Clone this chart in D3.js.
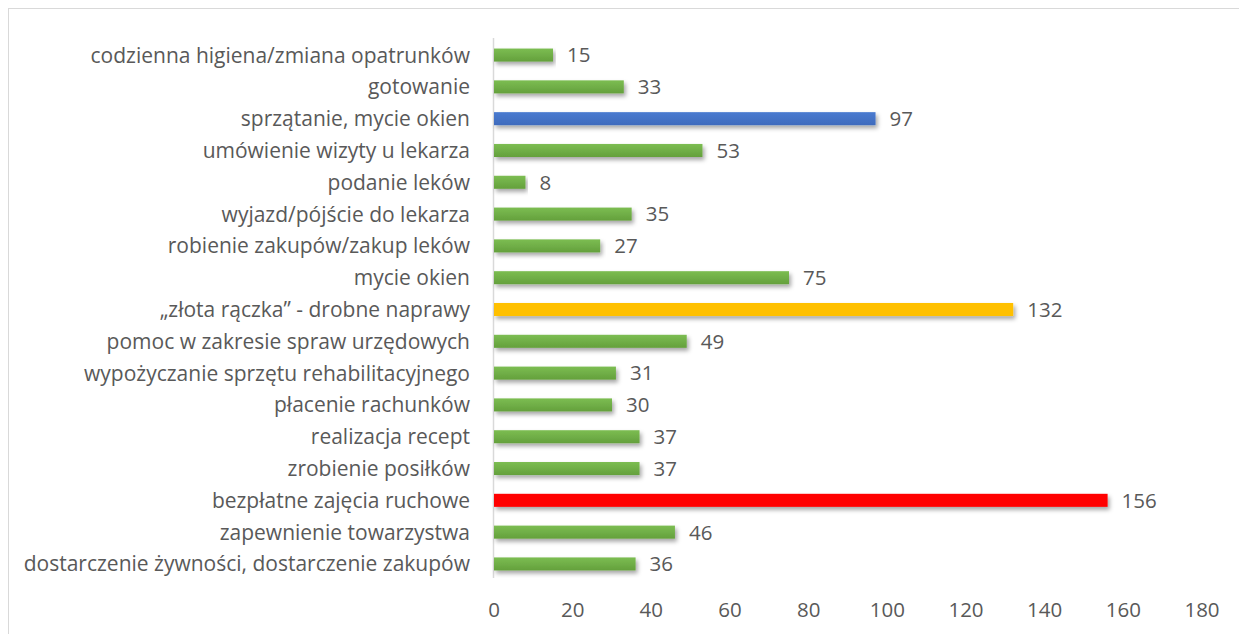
<!DOCTYPE html>
<html>
<head>
<meta charset="utf-8">
<script src="https://cdn.jsdelivr.net/npm/d3@7"></script>
<style>
  body { margin: 0; background: #fff; }
  text { font-family: "Open Sans", "Noto Sans", sans-serif; fill: #595959; }
</style>
</head>
<body>
<svg id="chart" width="1239" height="634"></svg>
<script>
var categories = [
  "codzienna higiena/zmiana opatrunków",
  "gotowanie",
  "sprzątanie, mycie okien",
  "umówienie wizyty u lekarza",
  "podanie leków",
  "wyjazd/pójście do lekarza",
  "robienie zakupów/zakup leków",
  "mycie okien",
  "„złota rączka” - drobne naprawy",
  "pomoc w zakresie spraw urzędowych",
  "wypożyczanie sprzętu rehabilitacyjnego",
  "płacenie rachunków",
  "realizacja recept",
  "zrobienie posiłków",
  "bezpłatne zajęcia ruchowe",
  "zapewnienie towarzystwa",
  "dostarczenie żywności, dostarczenie zakupów"
];
var values = [15, 33, 97, 53, 8, 35, 27, 75, 132, 49, 31, 30, 37, 37, 156, 46, 36];
var highlight = {
  "sprzątanie, mycie okien": "blue",
  "„złota rączka” - drobne naprawy": "orange",
  "bezpłatne zajęcia ruchowe": "red"
};
var xTicks = [0, 20, 40, 60, 80, 100, 120, 140, 160, 180];

var svg = d3.select("#chart");

// outer frame (right and bottom run off the picture)
svg.append("rect")
    .attr("x", 8.5).attr("y", 8.5)
    .attr("width", 1260).attr("height", 660)
    .attr("fill", "none")
    .attr("stroke", "#d9d9d9");

var defs = svg.append("defs");
var fills = {
  green: ["#7cbd52", "#64a03c"],
  blue: ["#4a7bd0", "#3f6bbd"],
  orange: ["#ffc000", "#ffc000"],
  red: ["#ff0000", "#ff0000"]
};
Object.keys(fills).forEach(function(k) {
  var g = defs.append("linearGradient")
      .attr("id", "g-" + k)
      .attr("x1", 0).attr("y1", 0).attr("x2", 0).attr("y2", 1);
  g.append("stop").attr("offset", "0%").attr("stop-color", fills[k][0]);
  g.append("stop").attr("offset", "100%").attr("stop-color", fills[k][1]);
});
defs.append("filter")
    .attr("id", "shadow")
    .attr("x", "-5%").attr("y", "-50%").attr("width", "110%").attr("height", "250%")
  .append("feDropShadow")
    .attr("dx", 2).attr("dy", 3)
    .attr("stdDeviation", 2)
    .attr("flood-color", "#000")
    .attr("flood-opacity", 0.35);

var x = d3.scaleLinear()
    .domain([0, 180])
    .range([494, 1202]);

var y = d3.scaleBand()
    .domain(categories)
    .range([39, 580])
    .paddingInner(0.59)
    .paddingOuter(0.3);

// axis line
svg.append("line")
    .attr("x1", x(0) - 0.5).attr("x2", x(0) - 0.5)
    .attr("y1", 38).attr("y2", 578)
    .attr("stroke", "#d9d9d9")
    .attr("stroke-width", 1.5);

// bars
svg.append("g")
  .selectAll("rect")
  .data(categories)
  .enter().append("rect")
    .attr("x", x(0))
    .attr("y", function(d) { return y(d); })
    .attr("width", function(d, i) { return x(values[i]) - x(0); })
    .attr("height", y.bandwidth())
    .attr("fill", function(d) { return "url(#g-" + (highlight[d] || "green") + ")"; })
    .attr("filter", "url(#shadow)");

// data labels
svg.append("g")
  .selectAll("text")
  .data(categories)
  .enter().append("text")
    .attr("x", function(d, i) { return x(values[i]) + 14; })
    .attr("y", function(d) { return y(d) + y.bandwidth() / 2; })
    .attr("dy", "0.36em")
    .style("font-size", "20.5px")
    .text(function(d, i) { return values[i]; });

// category labels
svg.append("g")
  .selectAll("text")
  .data(categories)
  .enter().append("text")
    .attr("x", 470)
    .attr("y", function(d) { return y(d) + y.bandwidth() / 2; })
    .attr("dy", "0.36em")
    .attr("text-anchor", "end")
    .style("font-size", "21px")
    .text(function(d) { return d; });

// x tick labels
svg.append("g")
  .selectAll("text")
  .data(xTicks)
  .enter().append("text")
    .attr("x", function(d) { return x(d); })
    .attr("y", 610)
    .attr("dy", "0.36em")
    .attr("text-anchor", "middle")
    .style("font-size", "20.5px")
    .text(function(d) { return d; });
</script>
</body>
</html>
